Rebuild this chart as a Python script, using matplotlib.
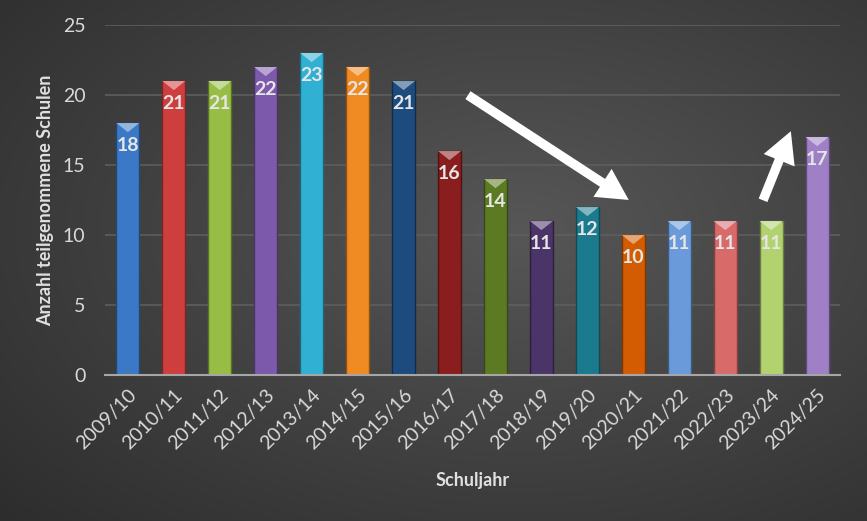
import numpy as np
import matplotlib
matplotlib.use("Agg")
import matplotlib.pyplot as plt
from matplotlib.colors import to_rgb

plt.rcParams["font.family"] = ["Lato", "DejaVu Sans"]

# Daten
schuljahre = ["2009/10", "2010/11", "2011/12", "2012/13", "2013/14", "2014/15",
              "2015/16", "2016/17", "2017/18", "2018/19", "2019/20", "2020/21",
              "2021/22", "2022/23", "2023/24", "2024/25"]
schulen = [18, 21, 21, 22, 23, 22, 21, 16, 14, 11, 12, 10, 11, 11, 11, 17]
farben = ["#3b78c6", "#cf3e3e", "#98bd45", "#7d59ab", "#30b0d2", "#f08a22",
          "#1d4b7e", "#8a1d1d", "#5b7a22", "#4a3468", "#1c7a8f", "#d35b02",
          "#6a9ad9", "#d86a6a", "#b1d26f", "#9f80c6"]

W, H = 867, 521
fig = plt.figure(figsize=(W / 100, H / 100), dpi=100)

# Hintergrund (radialer Verlauf)
bg = fig.add_axes([0, 0, 1, 1])
yy, xx = np.mgrid[0:H, 0:W]
r = np.sqrt(((xx - 520) / W) ** 2 + ((yy - 230) / H) ** 2)
grau = np.clip(0.34 - 0.20 * r, 0.16, 0.34)
bg.imshow(np.dstack([grau] * 3), aspect="auto", extent=[0, 1, 0, 1])
bg.axis("off")

ax = fig.add_axes([0.121, 0.280, 0.848, 0.672])
ax.patch.set_alpha(0)

x = np.arange(len(schulen))
breite = 0.5
dunkel = [tuple(c * 0.6 for c in to_rgb(f)) for f in farben]
ax.bar(x, schulen, width=breite, color=farben, edgecolor=dunkel, linewidth=1, zorder=3)

# Dreieck oben auf jedem Balken + Wert
for xi, v, f in zip(x, schulen, farben):
    hell = tuple(min(1, c + (1 - c) * 0.45) for c in to_rgb(f))
    ax.fill([xi - breite / 2, xi + breite / 2, xi], [v, v, v - 0.65],
            color=hell, zorder=4, linewidth=0)
    ax.text(xi, v - 1.6, str(v), ha="center", va="center", fontsize=14,
            fontweight="bold", color="#e6e6e6", zorder=5)

ax.set_xlim(-0.5, len(schulen) - 0.5)
ax.set_ylim(0, 25)
ax.set_yticks([0, 5, 10, 15, 20, 25])
ax.set_xticks(x)
ax.set_xticklabels(schuljahre, rotation=45, ha="right", rotation_mode="anchor",
                   fontsize=14, color="#d9d9d9")
ax.tick_params(axis="y", labelsize=14, colors="#d9d9d9", length=0, pad=14)
ax.tick_params(axis="x", length=0, pad=8)
ax.grid(axis="y", color="#5e5e5e", linewidth=1.2, zorder=0)
for s in ["top", "right", "left"]:
    ax.spines[s].set_visible(False)
ax.spines["bottom"].set_color("#a6a6a6")
ax.spines["bottom"].set_linewidth(1.5)
ax.spines["bottom"].set_zorder(6)

ax.set_ylabel("Anzahl teilgenommene Schulen", fontsize=13, fontweight="bold",
              color="#e0e0e0", labelpad=6)
ax.set_xlabel("Schuljahr", fontsize=13, fontweight="bold", color="#e0e0e0", labelpad=14)

# Trendpfeile
pfeil = dict(arrowstyle="simple,head_length=1.5,head_width=1.6,tail_width=0.45",
             color="white", lw=0, mutation_scale=15)
ax.annotate("", xy=(10.95, 12.4), xytext=(7.35, 20.1), arrowprops=pfeil, zorder=7)
ax.annotate("", xy=(14.45, 17.6), xytext=(13.8, 12.3), arrowprops=pfeil, zorder=7)

fig.savefig("out.png", dpi=100)
